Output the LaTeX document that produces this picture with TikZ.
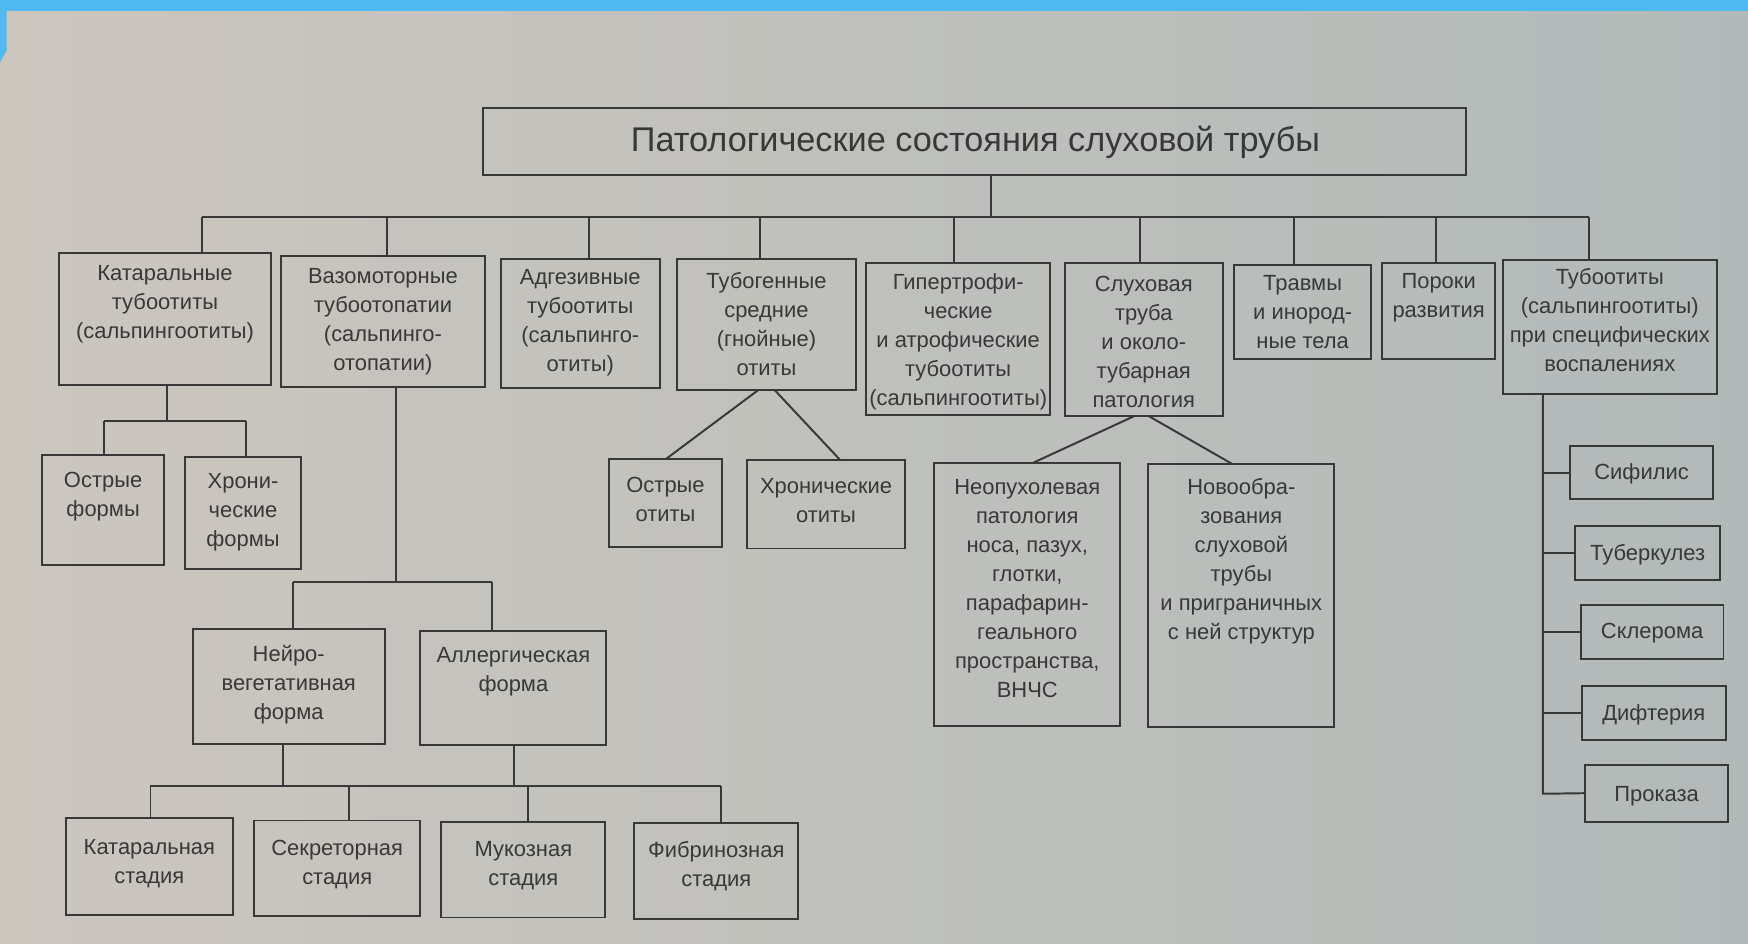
\documentclass[tikz,border=0pt]{standalone}
\usepackage{fontspec}
\setmainfont{Liberation Sans}
\usetikzlibrary{fit,calc}
\definecolor{ink}{HTML}{383838}
\definecolor{paperL}{HTML}{CCC6BF}
\definecolor{paperR}{HTML}{B2BAB9}
\definecolor{slideblue}{HTML}{4FB9F0}
\tikzset{
  bx/.style={draw=ink, line width=1pt, inner sep=0pt, outer sep=0pt},
  txt/.style={align=center, inner sep=0pt, text=ink, font=\fontsize{11.2}{14.8}\selectfont},
  roottxt/.style={inner sep=0pt, text=ink, font=\fontsize{17.5}{20}\selectfont},
  link/.style={draw=ink, line width=1pt}
}
\newcommand\bx[7]{%
  \node[bx, fit={(#2,#3) (#4,#5)}] (#1) {};
  \node[txt, anchor=north] (#1-t) at ({(#2+#4)/2},{#6-12}) {\strut #7};
}
\begin{document}
\begin{tikzpicture}[x=0.02cm,y=-0.02cm]
\useasboundingbox (0,0) rectangle (1568,846);
% background (photo of page + slide frame)
\shade[left color=paperL, right color=paperR] (0,0) rectangle (1568,846);
\fill[slideblue] (0,0) rectangle (1568,10);
\fill[slideblue] (0,10) -- (6,10) -- (6,45) -- (0,56) -- cycle;

% root
\node[bx, fit={(433,97) (1315,157)}] (root) {};
\node[roottxt] (root-t) at (875,128) {Патологические состояния слуховой трубы};

% level 1
\bx{k1}{53}{227}{243}{345}{245}{Катаральные\\тубоотиты\\(сальпингоотиты)}
\bx{k2}{252}{230}{435}{347}{248}{Вазомоторные\\тубоотопатии\\(сальпинго-\\отопатии)}
\bx{k3}{449}{232}{592}{348}{249}{Адгезивные\\тубоотиты\\(сальпинго-\\отиты)}
\bx{k4}{607}{232}{768}{350}{252}{Тубогенные\\средние\\(гнойные)\\отиты}
\bx{k5}{777}{236}{942}{372}{253}{Гипертрофи-\\ческие\\и атрофические\\тубоотиты\\(сальпингоотиты)}
\bx{k6}{955}{236}{1097}{373}{255}{Слуховая\\труба\\и около-\\тубарная\\патология}
\bx{k7}{1107}{238}{1230}{322}{254}{Травмы\\и инород-\\ные тела}
\bx{k8}{1240}{236}{1341}{322}{252}{Пороки\\развития}
\bx{k9}{1348}{233}{1540}{353}{249}{Тубоотиты\\(сальпингоотиты)\\при специфических\\воспалениях}

% level 2
\bx{o1}{38}{408}{147}{507}{431}{Острые\\формы}
\bx{o2}{166}{410}{270}{510}{432}{Хрони-\\ческие\\формы}
\bx{n1}{173}{564}{345}{667}{587}{Нейро-\\вегетативная\\форма}
\bx{n2}{377}{566}{544}{668}{588}{Аллергическая\\форма}
\bx{s1}{59}{734}{209}{821}{760}{Катаральная\\стадия}
\bx{s2}{228}{736}{377}{822}{761}{Секреторная\\стадия}
\bx{s3}{396}{737}{543}{823}{762}{Мукозная\\стадия}
\bx{s4}{569}{738}{716}{824}{763}{Фибринозная\\стадия}
\bx{t1}{546}{412}{648}{491}{435}{Острые\\отиты}
\bx{t2}{670}{413}{812}{492}{436}{Хронические\\отиты}
\bx{p1}{838}{415}{1005}{651}{437}{Неопухолевая\\патология\\носа, пазух,\\глотки,\\парафарин-\\геального\\пространства,\\ВНЧС}
\bx{p2}{1030}{416}{1197}{652}{437}{Новообра-\\зования\\слуховой\\трубы\\и приграничных\\с ней структур}
\bx{r1}{1408}{400}{1537}{448}{424}{Сифилис}
\bx{r2}{1413}{472}{1543}{520}{496}{Туберкулез}
\bx{r3}{1418}{543}{1546}{591}{566}{Склерома}
\bx{r4}{1419}{615}{1548}{664}{640}{Дифтерия}
\bx{r5}{1422}{686}{1550}{737}{712}{Проказа}

% main bus
\coordinate (bus) at (889,195);
\coordinate (b1) at (181,195);
\coordinate (b2) at (347,195);
\coordinate (b3) at (528,195);
\coordinate (b4) at (682,195);
\coordinate (b5) at (856,195);
\coordinate (b6) at (1023,195);
\coordinate (b7) at (1161,195);
\coordinate (b8) at (1288,195);
\coordinate (b9) at (1425,195);
\draw[link] (root.south -| bus) -- (bus);
\draw[link] (b1) -- (b9);
\foreach \i in {1,...,9} {\draw[link] (b\i) -- (b\i |- k\i.north);}

% Catarrhal subtree
\coordinate (k1j) at (150,378);
\coordinate (o1j) at (93,378);
\coordinate (o2j) at (221,378);
\draw[link] (k1.south -| k1j) -- (k1j);
\draw[link] (o1j) -- (o2j);
\draw[link] (o1j) -- (o1j |- o1.north);
\draw[link] (o2j) -- (o2j |- o2.north);

% Vasomotor subtree
\coordinate (k2j) at (355,522);
\coordinate (n1j) at (263,522);
\coordinate (n2j) at (441,522);
\draw[link] (k2.south -| k2j) -- (k2j);
\draw[link] (n1j) -- (n2j);
\draw[link] (n1j) -- (n1j |- n1.north);
\draw[link] (n2j) -- (n2j |- n2.north);
\coordinate (n1d) at (254,705);
\coordinate (n2d) at (461,705);
\coordinate (s1j) at (135,705);
\coordinate (s2j) at (313,705);
\coordinate (s3j) at (474,705);
\coordinate (s4j) at (647,705);
\draw[link] (n1.south -| n1d) -- (n1d);
\draw[link] (n2.south -| n2d) -- (n2d);
\draw[link] (s1j) -- (s4j);
\foreach \i in {1,...,4} {\draw[link] (s\i j) -- (s\i j |- s\i.north);}

% Tubogenic otitis
\draw[link] ([xshift=-0.15cm]k4.south) -- (t1.north);
\draw[link] ([xshift=0.15cm]k4.south) -- ([xshift=0.26cm]t2.north);

% Eustachian tube & peritubal
\draw[link] ([xshift=-0.16cm]k6.south) -- ([xshift=0.11cm]p1.north);
\draw[link] ([xshift=0.08cm]k6.south) -- ([xshift=-0.17cm]p2.north);

% specific inflammations
\coordinate (rj) at (1384,712);
\draw[link] (k9.south -| rj) -- (rj) -- (r5.west);
\foreach \i in {1,...,4} {\draw[link] (r\i.west -| rj) -- (r\i.west);}
\end{tikzpicture}
\end{document}
